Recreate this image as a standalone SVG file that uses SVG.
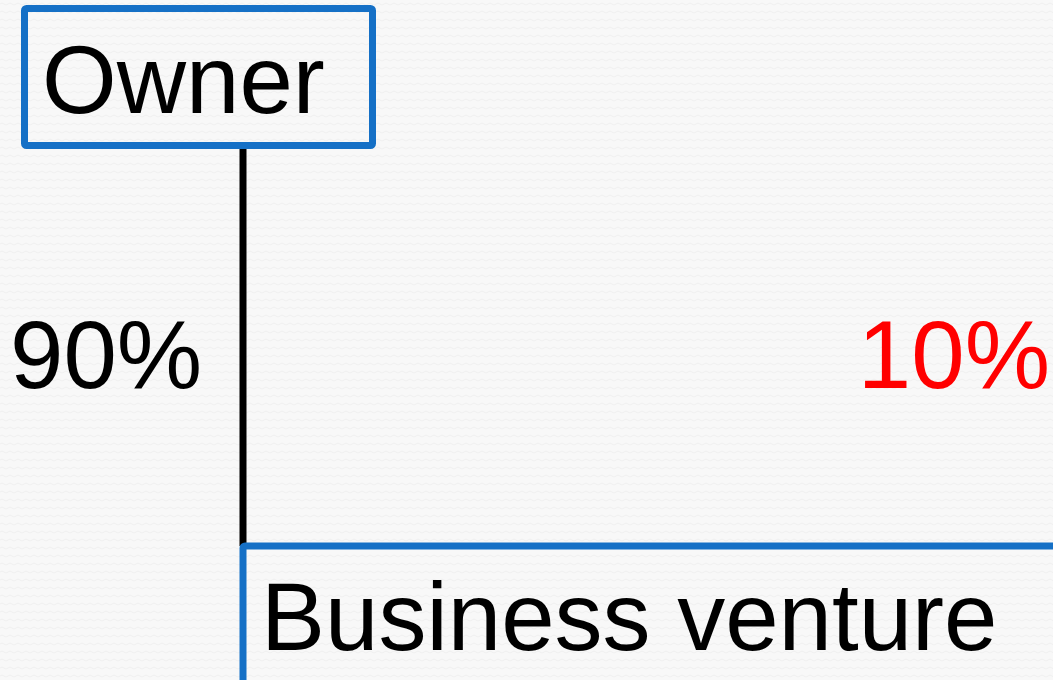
<svg xmlns="http://www.w3.org/2000/svg" width="1053" height="680" viewBox="0 0 1053 680">
  <defs>
    <pattern id="tex" width="8" height="8" patternUnits="userSpaceOnUse">
      <rect width="8" height="8" fill="#f8f8f8"/>
      <path d="M0 4 Q2 2 4 4 T8 4" fill="none" stroke="#eeeeee" stroke-width="0.8"/>
    </pattern>
  </defs>
  <style>
    .box { fill: none; stroke: #1570c6; stroke-width: 7; }
    .lbl { font-family: "Liberation Sans", Arial, sans-serif; font-size: 96px; fill: #000000; }
    .red { fill: #ff0000; }
    .conn { stroke: #000000; stroke-width: 7; fill: none; }
  </style>
  <rect width="1053" height="680" fill="url(#tex)"/>
  <g id="connectors">
    <line class="conn" x1="243" y1="146" x2="243" y2="546"/>
    <text class="lbl" x="10" y="388">90%</text>
    <text class="lbl red" x="1050" y="388" text-anchor="end">10%</text>
  </g>
  <g id="owner">
    <rect class="box" x="24.5" y="8.5" width="348" height="137" rx="2"/>
    <text class="lbl" x="42" y="113">Owner</text>
  </g>
  <g id="business">
    <rect class="box" x="243" y="546" width="830" height="160" rx="2"/>
    <text class="lbl" x="261" y="650">Business venture</text>
  </g>
</svg>
